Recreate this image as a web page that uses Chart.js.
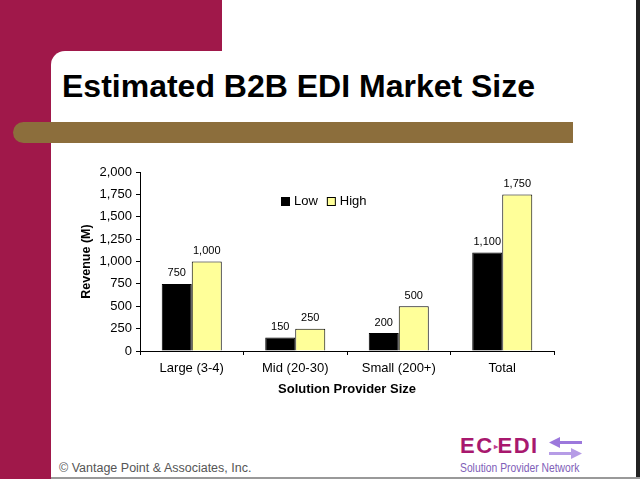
<!DOCTYPE html>
<html>
<head>
<meta charset="utf-8">
<script src="https://cdn.jsdelivr.net/npm/chart.js@4.4.0/dist/chart.umd.min.js"></script>
<style>
  html, body { margin:0; padding:0; background:#fff; }
  #stage { position:relative; width:640px; height:479px; overflow:hidden; background:#fff; font-family:'Liberation Sans', Arial, sans-serif; }
  .abs { position:absolute; }
  #maroonLeft { left:0; top:0; width:51px; height:479px; background:#A0184A; }
  #maroonTop { left:0; top:0; width:222px; height:51px; background:#A0184A; }
  #maroonCorner { left:51px; top:51px; width:24px; height:24px; background:#A0184A; }
  #panel { left:51px; top:51px; width:589px; height:428px; background:#fff; border-top-left-radius:14px; }
  #olive { left:13px; top:122px; width:560px; height:21px; background:#8C6E3C; border-radius:11px 0 0 11px; }
  #title { left:62px; top:70px; font-size:32px; line-height:32px; font-weight:bold; color:#000; white-space:nowrap; }
  #rightEdge { left:636px; top:0; width:4px; height:479px; background:#222; }
  #bottomEdge { left:51px; top:477px; width:589px; height:2px; background:#999; }
  #footer { left:59px; top:461px; font-size:12.5px; line-height:14px; color:#555; white-space:nowrap; }
  #logo1 { left:460px; top:434px; font-weight:bold; font-size:22px; line-height:24px; color:#A8186E; white-space:nowrap; letter-spacing:1.5px; }
  #logo1 .dot { font-size:8px; vertical-align:middle; color:#C04090; letter-spacing:0; }
  #logo2 { left:460px; top:461px; font-size:12px; line-height:14px; color:#8060B8; white-space:nowrap; transform:scaleX(0.86); transform-origin:0 0; }
  #arrows { left:549px; top:437px; }
  #chart { left:0; top:0; }
</style>
</head>
<body>
<div id="stage">
  <div class="abs" id="maroonLeft"></div>
  <div class="abs" id="maroonTop"></div>
  <div class="abs" id="maroonCorner"></div>
  <div class="abs" id="panel"></div>
  <div class="abs" id="olive"></div>
  <div class="abs" id="title">Estimated B2B EDI Market Size</div>
  <div class="abs" id="footer">© Vantage Point &amp; Associates, Inc.</div>
  <div class="abs" id="logo1">EC<span class="dot">▸</span>EDI</div>
  <svg class="abs" id="arrows" width="34" height="22" viewBox="0 0 34 22">
    <polygon points="33,4 11,4 11,0 0,5.5 11,11 11,7 33,7" fill="#9C78DC"/>
    <polygon points="0,15 22,15 22,11 33,16.5 22,22 22,18 0,18" fill="#B69CE6"/>
  </svg>
  <div class="abs" id="logo2">Solution Provider Network</div>
  <div class="abs" id="rightEdge"></div>
  <div class="abs" id="bottomEdge"></div>
  <canvas class="abs" id="chart" width="640" height="479"></canvas>
</div>
<script>
const categories = ['Large (3-4)', 'Mid (20-30)', 'Small (200+)', 'Total'];
const seriesNames = ['Low', 'High'];
const lowValues = [750, 150, 200, 1100];
const highValues = [1000, 250, 500, 1750];
const yMin = 0;
const yMax = 2000;
const yStep = 250;
const xTitle = 'Solution Provider Size';
const yTitle = 'Revenue (M)';

const fmt = v => Number(v).toLocaleString('en-US');

const valueLabels = {
  id: 'valueLabels',
  afterDatasetsDraw(chart) {
    const ctx = chart.ctx;
    ctx.save();
    ctx.font = '11px "Liberation Sans", Arial, sans-serif';
    ctx.fillStyle = '#000';
    ctx.textAlign = 'center';
    ctx.textBaseline = 'bottom';
    chart.data.datasets.forEach((ds, i) => {
      const meta = chart.getDatasetMeta(i);
      meta.data.forEach((el, j) => {
        ctx.fillText(fmt(ds.data[j]), el.x, el.y - 5);
      });
    });
    ctx.restore();
  }
};

const innerLegend = {
  id: 'innerLegend',
  afterDraw(chart) {
    const ctx = chart.ctx;
    ctx.save();
    ctx.font = '13px "Liberation Sans", Arial, sans-serif';
    ctx.textBaseline = 'middle';
    ctx.textAlign = 'left';
    let x = 281;
    const cy = 201.5;
    chart.data.datasets.forEach(ds => {
      ctx.fillStyle = ds.backgroundColor;
      ctx.fillRect(x, cy - 4.5, 9, 9);
      ctx.strokeStyle = '#000';
      ctx.lineWidth = 1;
      ctx.strokeRect(x + 0.5, cy - 4, 8, 8);
      x += 13;
      ctx.fillStyle = '#000';
      ctx.fillText(ds.label, x, cy);
      x += ctx.measureText(ds.label).width + 9;
    });
    ctx.restore();
  }
};

Chart.defaults.font.family = '"Liberation Sans", Arial, sans-serif';
Chart.defaults.color = '#000';

new Chart(document.getElementById('chart'), {
  type: 'bar',
  data: {
    labels: categories,
    datasets: [
      { label: seriesNames[0], data: lowValues, backgroundColor: '#000000', borderColor: '#000000', borderWidth: 1 },
      { label: seriesNames[1], data: highValues, backgroundColor: '#FFFF99', borderColor: '#000000', borderWidth: 1 }
    ]
  },
  options: {
    responsive: false,
    animation: false,
    devicePixelRatio: 1,
    layout: { padding: { left: 75, top: 172, right: 86, bottom: 78 } },
    datasets: { bar: { categoryPercentage: 0.58, barPercentage: 1 } },
    plugins: { legend: { display: false }, tooltip: { enabled: false } },
    scales: {
      x: {
        grid: { display: true, drawOnChartArea: false, drawTicks: true, tickLength: 4, color: '#000', offset: true },
        border: { display: true, color: '#000', width: 1 },
        ticks: { color: '#000', font: { size: 13 }, padding: 6, maxRotation: 0 },
        title: { display: true, text: xTitle, color: '#000', font: { size: 13, weight: 'bold' } },
        afterFit(s) { s.height = 50; }
      },
      y: {
        min: yMin, max: yMax,
        grid: { display: true, drawOnChartArea: false, drawTicks: true, tickLength: 4, color: '#000' },
        border: { display: true, color: '#000', width: 1 },
        ticks: { stepSize: yStep, color: '#000', font: { size: 13 }, padding: 4, callback: v => fmt(v) },
        title: { display: true, text: yTitle, color: '#000', font: { size: 12.5, weight: 'bold' } },
        afterFit(s) { s.width = 65; }
      }
    }
  },
  plugins: [valueLabels, innerLegend]
});
</script>
</body>
</html>
